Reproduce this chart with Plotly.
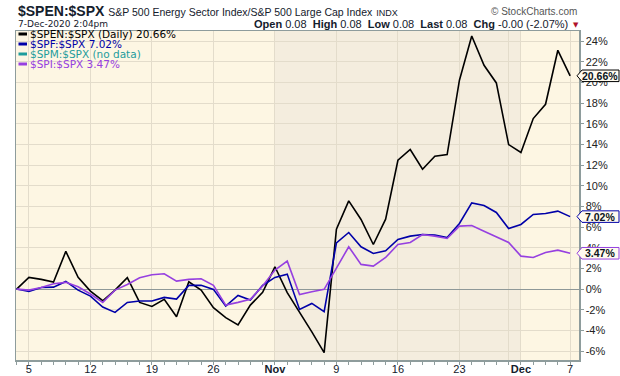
import plotly.graph_objects as go

# ---------------- data ----------------
dates = [
    "2020-10-02",
    "2020-10-05", "2020-10-06", "2020-10-07", "2020-10-08", "2020-10-09",
    "2020-10-12", "2020-10-13", "2020-10-14", "2020-10-15", "2020-10-16",
    "2020-10-19", "2020-10-20", "2020-10-21", "2020-10-22", "2020-10-23",
    "2020-10-26", "2020-10-27", "2020-10-28", "2020-10-29", "2020-10-30",
    "2020-11-02", "2020-11-03", "2020-11-04", "2020-11-05", "2020-11-06",
    "2020-11-09", "2020-11-10", "2020-11-11", "2020-11-12", "2020-11-13",
    "2020-11-16", "2020-11-17", "2020-11-18", "2020-11-19", "2020-11-20",
    "2020-11-23", "2020-11-24", "2020-11-25", "2020-11-27",
    "2020-11-30", "2020-12-01", "2020-12-02", "2020-12-03", "2020-12-04",
    "2020-12-07",
]

spen = [0.00, 1.13, 0.94, 0.68, 3.65, 1.13, -0.19, -1.13, -0.10, 1.10,
        -1.29, -1.68, -1.00, -2.68, 0.71, -0.10, -1.80, -2.77, -3.48, -1.55,
        -0.32, 2.16, -0.35, -2.20, -4.15, -6.16, 5.81, 8.55, 6.74, 4.32,
        6.77, 12.48, 13.52, 11.61, 12.87, 13.03, 20.23, 24.52, 21.68, 19.97,
        14.00, 13.23, 16.52, 17.90, 23.13, 20.66]

spf = [0.00, -0.23, 0.16, 0.19, 0.74, -0.10, -0.68, -1.74, -2.26, -1.29,
       -1.16, -1.16, -0.81, -0.97, 0.36, 0.36, -0.03, -1.65, -0.61, -1.06,
       0.35, 1.13, 1.45, -1.97, -1.39, -2.19, 4.48, 5.48, 4.10, 3.45,
       3.71, 4.81, 5.13, 5.29, 5.23, 5.00, 6.35, 8.35, 8.10, 7.42,
       5.87, 6.26, 7.23, 7.32, 7.55, 7.02]

spi = [0.00, -0.10, 0.16, 0.52, 0.65, 0.23, -0.48, -1.29, -0.10, 0.45,
       1.10, 1.39, 1.48, 0.77, 0.94, 1.00, 0.36, -1.55, -1.29, -1.00,
       0.30, 1.84, 2.71, -0.52, -0.26, -0.03, 2.03, 4.10, 2.39, 2.23,
       3.06, 4.32, 4.52, 5.29, 5.13, 4.90, 6.10, 6.16, 5.61, 5.06,
       4.52, 3.19, 3.06, 3.55, 3.77, 3.47]

series_names = ["$SPEN:$SPX", "$SPF:$SPX", "$SPM:$SPX", "$SPI:$SPX"]
legend_texts = ["$SPEN:$SPX (Daily) 20.66%", "$SPF:$SPX 7.02%",
                "$SPM:$SPX (no data)", "$SPI:$SPX 3.47%"]
series_colors = ["#000000", "#0000A8", "#1E9C9C", "#9640E0"]

tick_dates = ["2020-10-05", "2020-10-12", "2020-10-19", "2020-10-26",
              "2020-11-02", "2020-11-09", "2020-11-16", "2020-11-23",
              "2020-11-30", "2020-12-01", "2020-12-07"]
tick_labels = ["5", "12", "19", "26", "<b>Nov</b>", "9", "16", "23",
               "", "<b>Dec</b>", "7"]

y_ticks = list(range(-6, 26, 2))

shade_start = "2020-11-02"
shade_end = "2020-12-01"

# ---------------- geometry helpers ----------------
W, H = 620, 376
ML, MR, MT, MB = 16, 41, 31, 16
PW = W - ML - MR
PH = H - MT - MB


def px2paper_x(px):
    return (px - ML) / PW


def px2paper_y(py):
    return (H - MB - py) / PH


xidx = list(range(len(dates)))
pos = {d: i for i, d in enumerate(dates)}

YMIN, YMAX = -6.87, 25.0

FONT = "Liberation Sans, Arial, sans-serif"
VFONT = "DejaVu Sans, Verdana, sans-serif"

fig = go.Figure()

for vals, name, col in [(spen, series_names[0], series_colors[0]),
                        (spf, series_names[1], series_colors[1]),
                        (spi, series_names[3], series_colors[3])]:
    fig.add_trace(go.Scatter(x=xidx, y=vals, mode="lines", name=name,
                             line=dict(color=col, width=1.6),
                             showlegend=False, hoverinfo="skip"))

# November shading
fig.add_shape(type="rect", xref="x", yref="paper",
              x0=pos[shade_start], x1=pos[shade_end], y0=0, y1=1,
              fillcolor="#F4EDDE", line_width=0, layer="between")

# legend (manual)
for k, (txt, col) in enumerate(zip(legend_texts, series_colors)):
    py = 34 + 10 * k
    fig.add_shape(type="line", xref="paper", yref="paper",
                  x0=px2paper_x(18.5), x1=px2paper_x(27),
                  y0=px2paper_y(py), y1=px2paper_y(py),
                  line=dict(color=col, width=3))
    fig.add_annotation(xref="paper", yref="paper", x=px2paper_x(29),
                       y=px2paper_y(py), xanchor="left", yanchor="middle",
                       text=txt, showarrow=False, borderpad=0,
                       font=dict(family=VFONT, size=10.5, color=col))

# right side last value tags
for vals, col in [(spen, "#000000"), (spf, "#0000A8"), (spi, "#9640E0")]:
    v = vals[-1]
    h = 0.56
    xt, xb, xe = px2paper_x(577), px2paper_x(582), px2paper_x(619)
    path = (f"M {xt} {v} L {xb} {v + h} L {xe} {v + h} "
            f"L {xe} {v - h} L {xb} {v - h} Z")
    fig.add_shape(type="path", xref="paper", yref="y", path=path,
                  fillcolor="#FFFBEF", line=dict(color=col, width=1),
                  layer="above")
    fig.add_annotation(xref="paper", yref="y", x=px2paper_x(600), y=v,
                       xanchor="center", yanchor="middle",
                       text=f"<b>{v:.2f}%</b>", showarrow=False,
                       borderpad=0,
                       font=dict(family=FONT, size=10.5, color="#0A1420"))

# header
fig.add_annotation(xref="paper", yref="paper", x=0, y=px2paper_y(11),
                   xanchor="left", yanchor="middle", showarrow=False,
                   text=("<b>$SPEN:$SPX</b> "
                         "<span style='font-size:10.5px'>S&amp;P 500 Energy Sector Index/S&amp;P 500 Large Cap Index</span>"
                         " <span style='font-size:9px'>INDX</span>"),
                   font=dict(family=FONT, size=14, color="#14202C"))
fig.add_annotation(xref="paper", yref="paper", x=1, y=px2paper_y(11),
                   xanchor="right", yanchor="middle", showarrow=False,
                   text="© StockCharts.com",
                   font=dict(family=FONT, size=10, color="#555555"))
fig.add_annotation(xref="paper", yref="paper", x=0, y=px2paper_y(24.5),
                   xanchor="left", yanchor="middle", showarrow=False,
                   text="7-Dec-2020 2:04pm",
                   font=dict(family=VFONT, size=9, color="#14202C"))
fig.add_annotation(xref="paper", yref="paper", x=px2paper_x(570),
                   y=px2paper_y(24.5), xanchor="right", yanchor="middle",
                   showarrow=False,
                   text=("<b>Open</b> 0.08  <b>High</b> 0.08  <b>Low</b> 0.08  "
                         "<b>Last</b> 0.08  <b>Chg</b> -0.00 (-2.07%)"),
                   font=dict(family=FONT, size=11, color="#14202C"))
fig.add_annotation(xref="paper", yref="paper", x=px2paper_x(575.5),
                   y=px2paper_y(25), xanchor="center", yanchor="middle",
                   showarrow=False, text="▼",
                   font=dict(family=VFONT, size=7, color="#B0102A"))

fig.update_layout(
    width=W, height=H,
    margin=dict(l=ML, r=MR, t=MT, b=MB, pad=0),
    paper_bgcolor="#FFFFFF",
    plot_bgcolor="#FDF6E3",
    showlegend=False,
    xaxis=dict(
        range=[-0.05, 45.72],
        automargin=False,
        tickvals=[pos[d] for d in tick_dates],
        ticktext=tick_labels,
        showgrid=True, gridcolor="#E3DCCB", gridwidth=1,
        zeroline=False,
        showline=True, linecolor="#8E9C9C", linewidth=1.5, mirror=True,
        ticks="outside", ticklen=3, tickcolor="#8E9C9C",
        ticklabelstandoff=-5,
        minor=dict(dtick=1, tick0=0, ticks="outside", ticklen=3,
                   tickcolor="#8E9C9C", showgrid=False),
        tickfont=dict(family=FONT, size=11, color="#14202C"),
        fixedrange=True,
    ),
    yaxis=dict(
        side="right",
        range=[YMIN, YMAX],
        automargin=False,
        tickvals=y_ticks,
        ticktext=[f"{t}%" for t in y_ticks],
        showgrid=True, gridcolor="#E3DCCB", gridwidth=1,
        zeroline=True, zerolinecolor="#8E9898", zerolinewidth=1,
        showline=True, linecolor="#8E9C9C", linewidth=1.5, mirror=True,
        ticks="outside", ticklen=3, tickcolor="#8E9C9C",
        tickfont=dict(family=FONT, size=11, color="#222222"),
        fixedrange=True,
    ),
)

fig.write_html("out.html",
               config={"displayModeBar": False, "staticPlot": True},
               post_script="document.body.style.margin='0';"
                           "document.body.style.padding='0';")
